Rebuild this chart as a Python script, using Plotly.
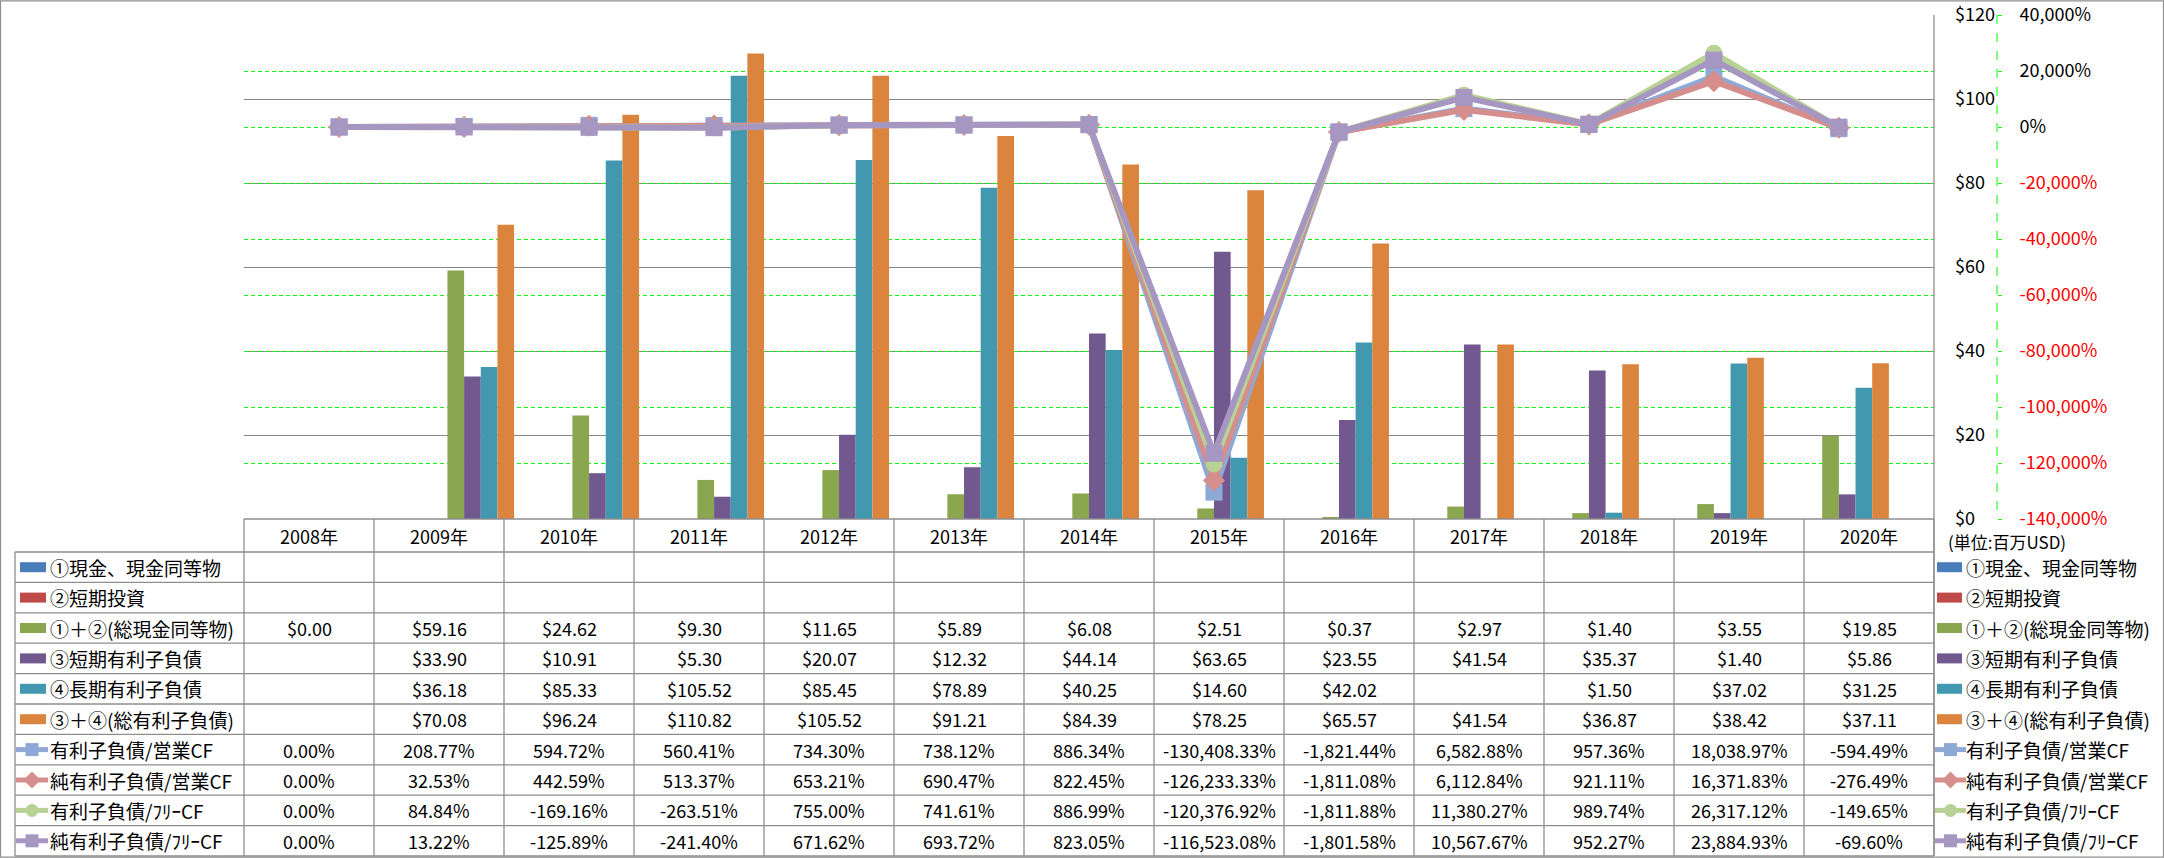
import plotly.graph_objects as go

# ---------------- data ----------------
years = ["2008年", "2009年", "2010年", "2011年", "2012年", "2013年", "2014年",
         "2015年", "2016年", "2017年", "2018年", "2019年", "2020年"]

cash_equiv = [None] * 13                      # ①現金、現金同等物
short_invest = [None] * 13                    # ②短期投資
total_cash = [0.00, 59.16, 24.62, 9.30, 11.65, 5.89, 6.08, 2.51, 0.37, 2.97, 1.40, 3.55, 19.85]
short_debt = [None, 33.90, 10.91, 5.30, 20.07, 12.32, 44.14, 63.65, 23.55, 41.54, 35.37, 1.40, 5.86]
long_debt = [None, 36.18, 85.33, 105.52, 85.45, 78.89, 40.25, 14.60, 42.02, None, 1.50, 37.02, 31.25]
total_debt = [None, 70.08, 96.24, 110.82, 105.52, 91.21, 84.39, 78.25, 65.57, 41.54, 36.87, 38.42, 37.11]

debt_ocf = [0.00, 208.77, 594.72, 560.41, 734.30, 738.12, 886.34, -130408.33, -1821.44, 6582.88, 957.36, 18038.97, -594.49]
netdebt_ocf = [0.00, 32.53, 442.59, 513.37, 653.21, 690.47, 822.45, -126233.33, -1811.08, 6112.84, 921.11, 16371.83, -276.49]
debt_fcf = [0.00, 84.84, -169.16, -263.51, 755.00, 741.61, 886.99, -120376.92, -1811.88, 11380.27, 989.74, 26317.12, -149.65]
netdebt_fcf = [0.00, 13.22, -125.89, -241.40, 671.62, 693.72, 823.05, -116523.08, -1801.58, 10567.67, 952.27, 23884.93, -69.60]

bar_names = ["①現金、現金同等物", "②短期投資", "①＋②(総現金同等物)", "③短期有利子負債",
             "④長期有利子負債", "③＋④(総有利子負債)"]
line_names = ["有利子負債/営業CF", "純有利子負債/営業CF", "有利子負債/ﾌﾘｰCF", "純有利子負債/ﾌﾘｰCF"]

y1_ticks = [0, 20, 40, 60, 80, 100, 120]
y2_ticks = [-140000, -120000, -100000, -80000, -60000, -40000, -20000, 0, 20000, 40000]

# ---------------- styles ----------------
bar_colors = ["#4A7EBB", "#BE4B48", "#8AA64F", "#71588F", "#4298AF", "#DB843D"]
line_colors = ["#8EA9D6", "#D58E8B", "#B8D195", "#A696C2"]
line_symbols = ["square", "diamond", "circle", "square"]
FONT = "Noto Sans CJK JP"
GRID = "#878787"
TBL = "#8E8E8E"

W, H = 2164, 858
L, RP, T, B = 244, 2110, 15, 519     # paper area in pixels
PLOT_R = 1934
PW, PH = RP - L, B - T


def px(x):
    return (x - L) / PW


def py(y):
    return (B - y) / PH


fig = go.Figure()

bar_vals = [cash_equiv, short_invest, total_cash, short_debt, long_debt, total_debt]
for name, vals, col in zip(bar_names, bar_vals, bar_colors):
    fig.add_trace(go.Bar(x=years, y=vals, name=name, marker=dict(color=col, line=dict(width=0)),
                         showlegend=False, yaxis="y"))

line_vals = [debt_ocf, netdebt_ocf, debt_fcf, netdebt_fcf]
for name, vals, col, sym in zip(line_names, line_vals, line_colors, line_symbols):
    fig.add_trace(go.Scatter(x=years, y=vals, name=name, mode="lines+markers",
                             line=dict(color=col, width=6),
                             marker=dict(symbol=sym, size=17, color=col, line=dict(width=0)),
                             showlegend=False, yaxis="y2"))

y1_text = [f"${v}" for v in y1_ticks]
y2_text = []
for v in y2_ticks:
    s = f"{v:,}%"
    if v < 0:
        s = f'<span style="color:#FF0000">{s}</span>'
    y2_text.append(s)

fig.update_layout(
    width=W, height=H,
    margin=dict(l=L, r=W - RP, t=T, b=H - B, pad=0, autoexpand=False),
    paper_bgcolor="white", plot_bgcolor="white",
    font=dict(family=FONT, size=18, color="black"),
    barmode="group", bargap=0.2, bargroupgap=0,
    xaxis=dict(domain=[0, px(PLOT_R)], showticklabels=False, ticks="", showgrid=False,
               zeroline=False, showline=False, automargin=False),
    yaxis=dict(range=[0, 120], tickvals=y1_ticks, ticktext=y1_text, side="right", anchor="x",
               showgrid=True, gridcolor=GRID, gridwidth=1.3, zeroline=False, showline=False,
               ticks="", ticklabelstandoff=20, ticklabeloverflow="allow", automargin=False,
               tickfont=dict(size=18, family=FONT)),
    yaxis2=dict(range=[-140000, 40000], tickvals=y2_ticks, ticktext=y2_text,
                overlaying="y", side="right", anchor="free", position=px(1997),
                showgrid=True, gridcolor="#00FF00", gridwidth=1, griddash="4px,3px",
                zeroline=False, showline=False, ticks="outside", ticklen=4,
                tickcolor="#00FF00", tickwidth=1, ticklabelstandoff=14,
                ticklabeloverflow="allow", automargin=False,
                tickfont=dict(size=18, family=FONT)),
)

shapes = []
annots = []


def hline(y, x0, x1, color=TBL, width=1.3):
    shapes.append(dict(type="line", xref="paper", yref="paper", x0=px(x0), x1=px(x1),
                       y0=py(y), y1=py(y), line=dict(color=color, width=width)))


def vline(x, y0, y1, color=TBL, width=1.3, dash="solid"):
    shapes.append(dict(type="line", xref="paper", yref="paper", x0=px(x), x1=px(x),
                       y0=py(y0), y1=py(y1), line=dict(color=color, width=width, dash=dash)))


def text(x, y, s, anchor="center", size=18, color="black"):
    annots.append(dict(xref="paper", yref="paper", x=px(x), y=py(y), text=s, showarrow=False,
                       xanchor=anchor, yanchor="middle", font=dict(family=FONT, size=size, color=color)))


def rect(x0, y0, x1, y1, color):
    shapes.append(dict(type="rect", xref="paper", yref="paper", x0=px(x0), x1=px(x1),
                       y0=py(y1), y1=py(y0), line=dict(width=0), fillcolor=color))


def marker_key(cx, cy, sym, color, s=13):
    h = s / 2
    if sym == "square":
        shapes.append(dict(type="rect", xref="paper", yref="paper", x0=px(cx - h), x1=px(cx + h),
                           y0=py(cy + h), y1=py(cy - h), line=dict(width=0), fillcolor=color))
    elif sym == "circle":
        shapes.append(dict(type="circle", xref="paper", yref="paper", x0=px(cx - h), x1=px(cx + h),
                           y0=py(cy + h), y1=py(cy - h), line=dict(width=0), fillcolor=color))
    else:
        d = h + 2
        path = (f"M {px(cx - d)},{py(cy)} L {px(cx)},{py(cy - d)} L {px(cx + d)},{py(cy)} "
                f"L {px(cx)},{py(cy + d)} Z")
        shapes.append(dict(type="path", xref="paper", yref="paper", path=path,
                           line=dict(width=0), fillcolor=color))


def line_key(x0, x1, cy, sym, color):
    shapes.append(dict(type="line", xref="paper", yref="paper", x0=px(x0), x1=px(x1),
                       y0=py(cy), y1=py(cy), line=dict(color=color, width=5)))
    marker_key((x0 + x1) / 2, cy, sym, color)


# chart outer border
shapes.append(dict(type="rect", xref="paper", yref="paper", x0=px(0.5), x1=px(W - 0.5),
                   y0=py(H - 0.8), y1=py(0.8), line=dict(color=TBL, width=1.2),
                   fillcolor="rgba(0,0,0,0)"))

# plot right border
vline(PLOT_R, T, 856)
# secondary axis dashed line
vline(1997, T, B, color="#00FF00", width=1, dash="dash")

# ---------------- data table ----------------
ncat = len(years)
colw = (PLOT_R - L) / ncat
head_top, head_bot = B, 552
row_h = (856 - head_bot) / 10
row_edges = [head_bot + i * row_h for i in range(11)]

hline(head_top, L, PLOT_R)
for ry in row_edges:
    hline(ry, 15, PLOT_R)
vline(15, head_bot, 856)
for i in range(ncat + 1):
    vline(L + i * colw, head_top, 856)

for i, yr in enumerate(years):
    text(L + (i + 0.5) * colw, (head_top + head_bot) / 2, yr)

rows = []
for name, vals, col in zip(bar_names, bar_vals, bar_colors):
    rows.append(("bar", name, col, None,
                 ["" if v is None else f"${v:,.2f}" for v in vals]))
for name, vals, col, sym in zip(line_names, line_vals, line_colors, line_symbols):
    rows.append(("line", name, col, sym,
                 ["" if v is None else f"{v:,.2f}%" for v in vals]))

for r, (kind, name, col, sym, cells) in enumerate(rows):
    cy = (row_edges[r] + row_edges[r + 1]) / 2
    # left label column
    if kind == "bar":
        rect(20, cy - 5, 46, cy + 5, col)
    else:
        line_key(16, 48, cy, sym, col)
    text(48, cy, name, anchor="left", size=19)
    # right legend
    if kind == "bar":
        rect(1937, cy - 5, 1962, cy + 5, col)
    else:
        line_key(1935, 1966, cy, sym, col)
    text(1964, cy, name, anchor="left", size=19)
    for i, s in enumerate(cells):
        if s:
            text(L + (i + 0.5) * colw, cy, s)

text(1946, 541, "(単位:百万USD)", anchor="left", size=17)

fig.update_layout(shapes=shapes, annotations=annots)
fig.write_html("out.html", config={"displayModeBar": False},
               post_script="document.body.style.margin='0';document.body.style.overflow='hidden';")
